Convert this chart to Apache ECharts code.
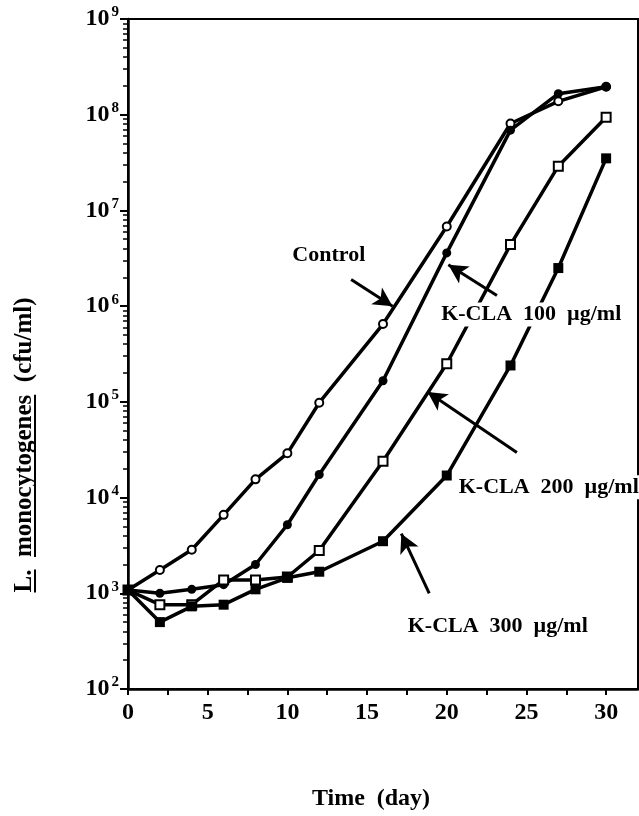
<!DOCTYPE html>
<html><head><meta charset="utf-8">
<script src="https://cdn.jsdelivr.net/npm/echarts@6/dist/echarts.min.js"></script>
<style>html,body{margin:0;padding:0;background:#fff}#c{width:639px;height:816px}</style>
</head><body><div id="c"></div>
<script>
// ---- data ----
const days = [0, 2, 4, 6, 8, 10, 12, 16, 20, 24, 27, 30];
const control = [1080, 1750, 2850, 6600, 15500, 29000, 98000, 650000, 6800000, 81000000, 138000000, 196000000];
const kcla100 = [1080, 1000, 1100, 1230, 2000, 5200, 17400, 166000, 3600000, 69000000, 166000000, 196000000];
const kcla200 = [1080, 760, 760, 1380, 1380, 1480, 2800, 24000, 250000, 4400000, 29000000, 94000000];
const kcla300 = [1080, 500, 730, 760, 1100, 1450, 1680, 3500, 17000, 240000, 2500000, 35000000];
const xTickLabels = [0, 5, 10, 15, 20, 25, 30];
const xTicks = [0, 2.5, 5, 7.5, 10, 12.5, 15, 17.5, 20, 22.5, 25, 27.5, 30];
const yDecades = [1e2, 1e3, 1e4, 1e5, 1e6, 1e7, 1e8, 1e9];
const yMinor = [];
for (let e = 2; e < 9; e++) for (let k = 2; k <= 9; k++) yMinor.push(k * Math.pow(10, e));
const xTitle = 'Time  (day)';
const yTitleParts = ['L.', '  ', 'monocytogenes', '  ', '(cfu/ml)'];
const annotations = [
  { text: 'Control', at: [12.6, 3.4e6], tail: [14.0, 1.9e6], head: [16.6, 1.0e6] },
  { text: 'K-CLA  100  \u00b5g/ml', at: [25.3, 8.2e5], tail: [23.15, 1.29e6], head: [20.1, 2.7e6] },
  { text: 'K-CLA  200  \u00b5g/ml', at: [26.4, 1.28e4], tail: [24.4, 2.95e4], head: [18.8, 1.27e5] },
  { text: 'K-CLA  300  \u00b5g/ml', at: [23.2, 451], tail: [18.9, 1.0e3], head: [17.15, 4.2e3] }
];

// ---- styling ----
const FF = '"Liberation Serif", "Times New Roman", serif';
const pair = arr => days.map((d, i) => [d, arr[i]]);
function mkSeries(name, arr, symbol, size, filled, extra) {
  return Object.assign({
    type: 'line', name, data: pair(arr), symbol, symbolSize: size,
    showSymbol: true,
    lineStyle: { color: '#000', width: 3.5 },
    itemStyle: { color: filled ? '#000' : '#fff', borderColor: '#000', borderWidth: filled ? 0 : 2 },
    emphasis: { disabled: true }, z: 3
  }, extra || {});
}

const arrowLines = annotations.map(a => [{ coord: a.tail }, { coord: a.head }]);

const option = {
  animation: false,
  backgroundColor: '#fff',
  grid: { left: 128, right: 1, top: 19, bottom: 123, show: true, borderColor: '#000', borderWidth: 2, backgroundColor: 'transparent' },
  xAxis: {
    type: 'value', min: 0, max: 32,
    axisLine: { show: true, onZero: false, lineStyle: { color: '#000', width: 2.5 } },
    axisTick: { show: true, customValues: xTicks, length: 6, lineStyle: { color: '#000', width: 2 } },
    axisLabel: { customValues: xTickLabels, margin: 12, color: '#000', fontFamily: FF, fontWeight: 'bold', fontSize: 24 },
    splitLine: { show: false },
    name: xTitle, nameLocation: 'middle', nameGap: 98,
    nameTextStyle: { color: '#000', fontFamily: FF, fontWeight: 'bold', fontSize: 24, padding: [0, 24, 0, 0] }
  },
  yAxis: [{
    type: 'log', logBase: 10, min: 100, max: 1e9,
    axisLine: { show: true, onZero: false, lineStyle: { color: '#000', width: 2.5 } },
    axisTick: { show: true, length: 8, lineStyle: { color: '#000', width: 2 } },
    axisLabel: {
      margin: 9, color: '#000',
      formatter: v => '{b|10}{s|' + Math.round(Math.log10(v)) + '}',
      rich: {
        b: { fontFamily: FF, fontWeight: 'bold', fontSize: 24, color: '#000' },
        s: { fontFamily: FF, fontWeight: 'bold', fontSize: 15, color: '#000', padding: [0, 0, 13, 2] }
      }
    },
    splitLine: { show: false }, minorTick: { show: false }
  }, {
    type: 'log', logBase: 10, min: 100, max: 1e9, position: 'left',
    axisLine: { show: false },
    axisTick: { show: true, customValues: yMinor, length: 5, lineStyle: { color: '#000', width: 1.5 } },
    axisLabel: { show: false },
    splitLine: { show: false }
  }],
  series: [
    mkSeries('Control', control, 'circle', 8, false, {
      markLine: {
        silent: true, symbol: ['none', 'arrow'], symbolSize: [15, 19],
        lineStyle: { color: '#000', width: 3, type: 'solid' },
        label: { show: false }, data: arrowLines, z: 5
      }
    }),
    mkSeries('K-CLA 100 µg/ml', kcla100, 'circle', 9, true),
    mkSeries('K-CLA 200 µg/ml', kcla200, 'rect', 9, false),
    mkSeries('K-CLA 300 µg/ml', kcla300, 'rect', 10, true)
  ]
};

const chart = echarts.init(document.getElementById('c'));
chart.setOption(option);

// annotation text placed through the chart's own scales
const TF = 'bold 22px ' + FF;
const gfx = annotations.map(a => {
  const p = chart.convertToPixel({ gridIndex: 0 }, a.at);
  return {
    type: 'text', x: p[0], y: p[1], z: 100,
    style: {
      text: a.text, font: TF, fill: '#000',
      align: 'center', verticalAlign: 'middle', textAlign: 'center', textVerticalAlign: 'middle',
      backgroundColor: '#fff', padding: [1, 2]
    }
  };
});

// y axis title with underlines
const YF = 'bold 25px "Liberation Serif"';
const ctx = document.createElement('canvas').getContext('2d');
ctx.font = YF;
const ws = yTitleParts.map(t => ctx.measureText(t).width);
const W = ws.reduce((a, b) => a + b, 0);
const x0 = -W / 2;
const uy = 10;
const children = [{
  type: 'text', x: x0, y: 0,
  style: { text: yTitleParts.join(''), font: YF, fill: '#000', align: 'left', verticalAlign: 'middle', textAlign: 'left', textVerticalAlign: 'middle' }
}, {
  type: 'line', shape: { x1: x0, y1: uy, x2: x0 + ws[0], y2: uy }, style: { stroke: '#000', lineWidth: 2 }
}, {
  type: 'line', shape: { x1: x0 + ws[0] + ws[1], y1: uy, x2: x0 + ws[0] + ws[1] + ws[2], y2: uy }, style: { stroke: '#000', lineWidth: 2 }
}];
gfx.push({ type: 'group', x: 25, y: 445, rotation: Math.PI / 2, children });

chart.setOption({ graphic: gfx });
</script>
</body></html>
